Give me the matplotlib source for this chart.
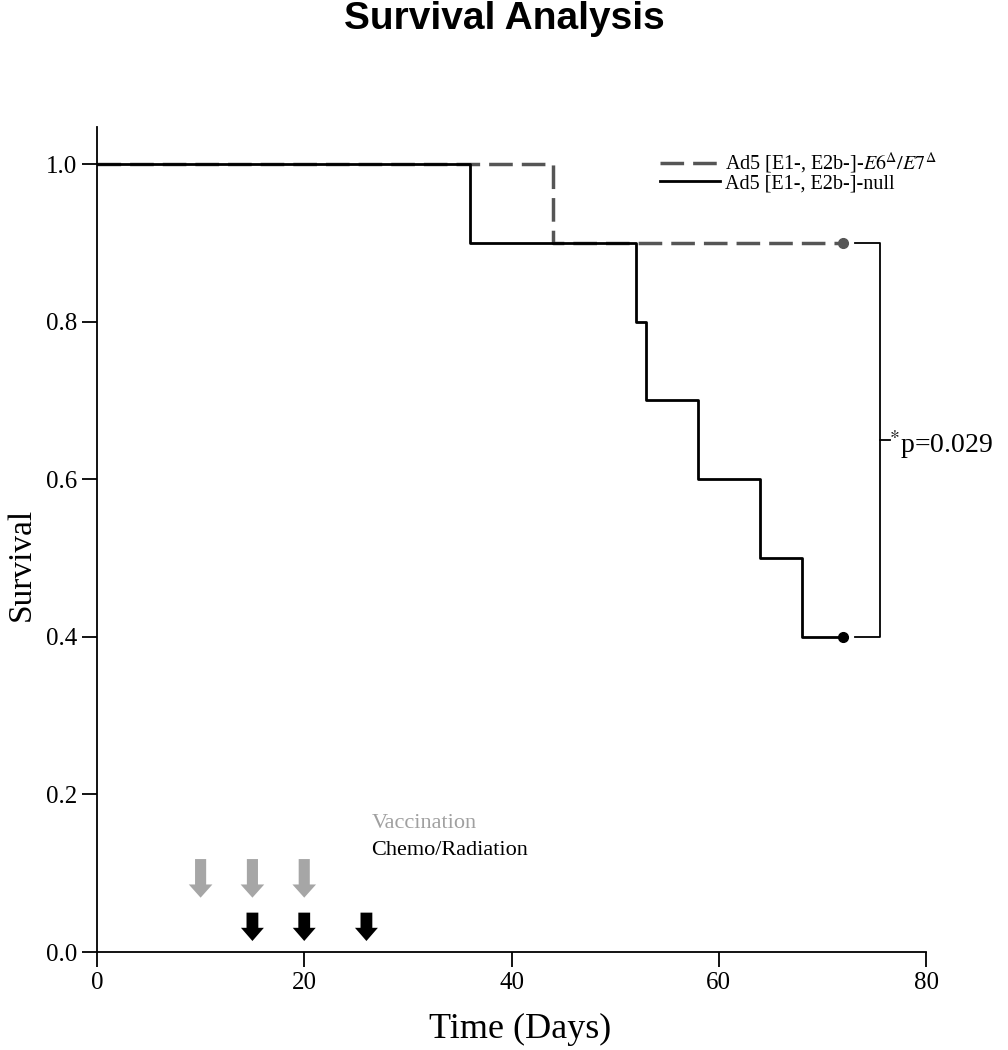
import matplotlib.pyplot as plt

plt.rcParams['font.family'] = ['Liberation Serif', 'DejaVu Serif']
plt.rcParams['mathtext.fontset'] = 'stix'
plt.rcParams['lines.scale_dashes'] = False

# Kaplan-Meier steps (day, survival)
days_e6e7 = [0, 44, 72]
surv_e6e7 = [1.0, 0.9, 0.9]
days_null = [0, 36, 52, 53, 58, 64, 68, 72]
surv_null = [1.0, 0.9, 0.8, 0.7, 0.6, 0.5, 0.4, 0.4]

vacc_days = [10, 15, 20]
chemo_days = [15, 20, 26]

label_e6e7 = r'Ad5 [E1-, E2b-]-$\mathit{E6}^{\Delta}/\mathit{E7}^{\Delta}$'
label_null = 'Ad5 [E1-, E2b-]-null'

fig = plt.figure(figsize=(10.08, 10.5), dpi=100)
ax = fig.add_axes([0.0962, 0.0933, 0.8225, 0.7857])

ax.step(days_e6e7, surv_e6e7, where='post', color='#555555', lw=2.5,
        dashes=(17, 6.5), label=label_e6e7)
ax.step(days_null, surv_null, where='post', color='black', lw=2,
        label=label_null)
ax.plot(days_e6e7[-1], surv_e6e7[-1], 'o', color='#555555', ms=7)
ax.plot(days_null[-1], surv_null[-1], 'o', color='black', ms=7)

# significance bracket
xb0, xb1 = 73.1, 75.6
ax.plot([xb0, xb1, xb1, xb0], [surv_e6e7[-1], surv_e6e7[-1], surv_null[-1], surv_null[-1]],
        color='black', lw=1.3, clip_on=False)
ymid = (surv_e6e7[-1] + surv_null[-1]) / 2
ax.plot([xb1, xb1 + 0.9], [ymid, ymid], color='black', lw=1.3, clip_on=False)
ax.text(xb1 + 0.8, ymid - 0.006, r'$^{*}$p=0.029', fontsize=20, va='center', ha='left')

# treatment arrows
for d in vacc_days:
    ax.annotate('', xy=(d, 0.069), xytext=(d, 0.118),
                arrowprops=dict(arrowstyle='simple,head_length=0.95,head_width=1.7,tail_width=0.8',
                                mutation_scale=10, color='#a6a6a6', lw=0, shrinkA=0, shrinkB=0))
for d in chemo_days:
    ax.annotate('', xy=(d, 0.014), xytext=(d, 0.05),
                arrowprops=dict(arrowstyle='simple,head_length=0.95,head_width=1.65,tail_width=0.85',
                                mutation_scale=10, color='black', lw=0, shrinkA=0, shrinkB=0))
ax.text(26.5, 0.163, 'Vaccination', color='#a0a0a0', fontsize=16, va='center')
ax.text(26.5, 0.129, 'Chemo/Radiation', color='black', fontsize=16, va='center')

ax.set_xlim(0, 80)
ax.set_ylim(0, 1.047)
ax.set_xticks([0, 20, 40, 60, 80])
ax.set_yticks([0.0, 0.2, 0.4, 0.6, 0.8, 1.0])
ax.set_yticklabels(['0.0', '0.2', '0.4', '0.6', '0.8', '1.0'])
ax.tick_params(axis='both', labelsize=18, width=1.3, length=11, direction='out')
ax.spines['top'].set_visible(False)
ax.spines['right'].set_visible(False)
for s in ('left', 'bottom'):
    ax.spines[s].set_linewidth(1.3)

ax.set_xlabel('Time (Days)', fontsize=26)
ax.xaxis.set_label_coords(0.51, -0.074)
ax.set_ylabel('Survival', fontsize=24)
ax.yaxis.set_label_coords(-0.073, 0.47)

leg = ax.legend(loc='upper left', bbox_to_anchor=(0.657, 0.993), frameon=False,
                fontsize=14.5, handlelength=3.0, handletextpad=0.25, labelspacing=-0.1)

fig.text(0.5, 0.982, 'Survival Analysis', fontsize=28, fontweight='bold',
         family='Liberation Sans', ha='center', va='center')

fig.savefig('out.png', dpi=100)
